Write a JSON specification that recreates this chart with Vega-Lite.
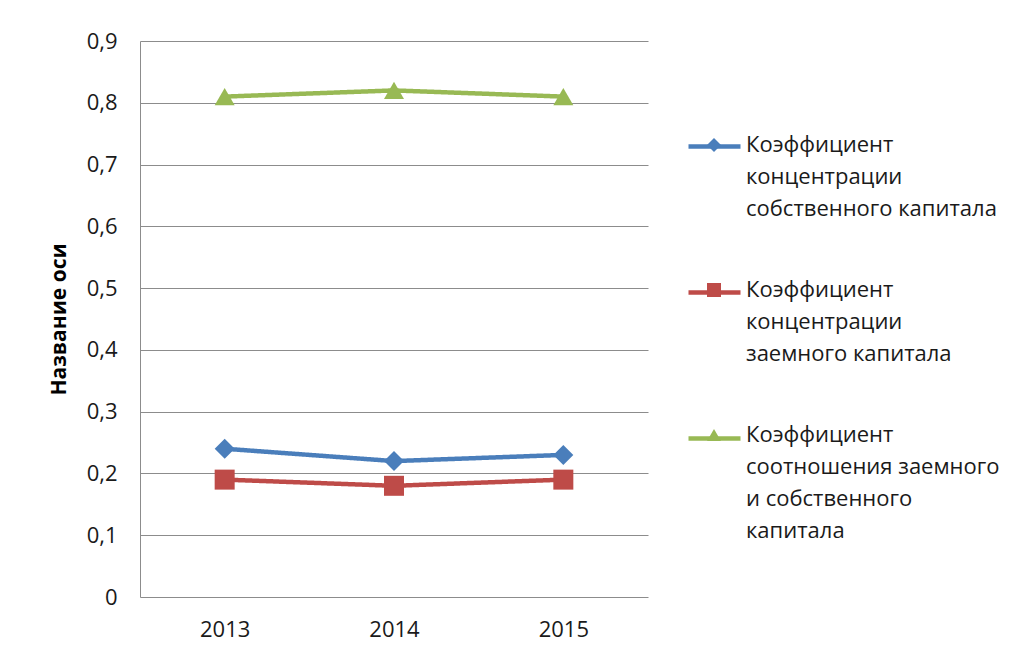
{
  "$schema": "https://vega.github.io/schema/vega-lite/v6.json",
  "width": 508,
  "height": 556,
  "autosize": {"type": "none"},
  "padding": {"left": 140, "top": 41, "right": 378, "bottom": 60},
  "background": "white",
  "config": {
    "font": "Open Sans",
    "view": {"stroke": null},
    "style": {"guide-label": {"lineHeight": 32}},
    "legend": {
      "title": null,
      "orient": "none",
      "padding": 0,
      "labelFontSize": 22,
      "labelLimit": 400,
      "labelOffset": 6,
      "labelBaseline": "top"
    }
  },
  "data": {
    "values": [
      {"year": "2013", "series": "Коэффициент концентрации собственного капитала", "value": 0.24},
      {"year": "2014", "series": "Коэффициент концентрации собственного капитала", "value": 0.22},
      {"year": "2015", "series": "Коэффициент концентрации собственного капитала", "value": 0.23},
      {"year": "2013", "series": "Коэффициент концентрации заемного капитала", "value": 0.19},
      {"year": "2014", "series": "Коэффициент концентрации заемного капитала", "value": 0.18},
      {"year": "2015", "series": "Коэффициент концентрации заемного капитала", "value": 0.19},
      {"year": "2013", "series": "Коэффициент соотношения заемного и собственного капитала", "value": 0.81},
      {"year": "2014", "series": "Коэффициент соотношения заемного и собственного капитала", "value": 0.82},
      {"year": "2015", "series": "Коэффициент соотношения заемного и собственного капитала", "value": 0.81}
    ]
  },
  "encoding": {
    "x": {
      "field": "year",
      "type": "ordinal",
      "scale": {"type": "point", "padding": 0.5},
      "axis": {
        "title": null,
        "domain": false,
        "ticks": false,
        "grid": false,
        "labelAngle": 0,
        "labelFontSize": 22,
        "labelColor": "#1a1a1a",
        "labelPadding": 22
      }
    },
    "y": {
      "field": "value",
      "type": "quantitative",
      "scale": {"domain": [0, 0.9], "nice": false},
      "axis": {
        "title": "Название оси",
        "titleFontSize": 21,
        "titleFontWeight": "bold",
        "titleColor": "#000000",
        "titlePadding": 17,
        "values": [0, 0.1, 0.2, 0.3, 0.4, 0.5, 0.6, 0.7, 0.8, 0.9],
        "labelExpr": "datum.value == 0 ? '0' : replace(format(datum.value, '.1f'), '.', ',')",
        "labelFontSize": 22,
        "labelColor": "#1a1a1a",
        "labelPadding": 23,
        "ticks": false,
        "domain": true,
        "domainColor": "#8c8c8c",
        "grid": true,
        "gridColor": "#8c8c8c",
        "gridWidth": 1
      }
    }
  },
  "layer": [
    {
      "mark": {"type": "line", "strokeWidth": 4.5},
      "encoding": {
        "stroke": {
          "field": "series",
          "type": "nominal",
          "scale": {
            "domain": [
              "Коэффициент концентрации собственного капитала",
              "Коэффициент концентрации заемного капитала",
              "Коэффициент соотношения заемного и собственного капитала"
            ],
            "range": ["#4A7EBB", "#BE4B48", "#98B954"]
          },
          "legend": {
            "legendX": 546,
            "legendY": 77,
            "symbolType": "stroke",
            "symbolSize": 2704,
            "symbolStrokeWidth": 4.5,
            "labelColor": "transparent",
            "rowPadding": 32,
            "labelExpr": "indexof(datum.label, 'соотношения') >= 0 ? [' ', ' ', ' ', ' '] : [' ', ' ', ' ']"
          }
        },
        "strokeDash": {
          "field": "series",
          "type": "nominal",
          "sort": "descending",
          "scale": {"range": [[1, 0], [1, 0], [1, 0]]},
          "legend": {
            "legendX": 578,
            "legendY": 83,
            "values": [
              "Коэффициент концентрации собственного капитала",
              "Коэффициент концентрации заемного капитала",
              "Коэффициент соотношения заемного и собственного капитала"
            ],
            "symbolSize": 196,
            "symbolOpacity": 0,
            "symbolStrokeWidth": 0,
            "labelColor": "#1a1a1a",
            "rowPadding": 49,
            "labelExpr": "datum.label == 'Коэффициент концентрации собственного капитала' ? ['Коэффициент', 'концентрации', 'собственного капитала'] : datum.label == 'Коэффициент концентрации заемного капитала' ? ['Коэффициент', 'концентрации', 'заемного капитала'] : ['Коэффициент', 'соотношения заемного', 'и собственного', 'капитала']"
          }
        }
      }
    },
    {
      "mark": {"type": "point", "filled": true, "opacity": 1, "size": 400},
      "encoding": {
        "fill": {
          "field": "series",
          "type": "nominal",
          "scale": {"range": ["#BE4B48", "#4A7EBB", "#98B954"]},
          "legend": {
            "legendX": 563,
            "legendY": 93,
            "values": [
              "Коэффициент концентрации собственного капитала",
              "Коэффициент концентрации заемного капитала",
              "Коэффициент соотношения заемного и собственного капитала"
            ],
            "symbolSize": 196,
            "symbolStrokeWidth": 0,
            "labelColor": "transparent",
            "rowPadding": 49,
            "labelExpr": "indexof(datum.label, 'соотношения') >= 0 ? [' ', ' ', ' ', ' '] : [' ', ' ', ' ']"
          }
        },
        "shape": {
          "field": "series",
          "type": "nominal",
          "scale": {"range": ["square", "diamond", "triangle-up"]},
          "legend": {
            "legendX": 563,
            "legendY": 93,
            "values": [
              "Коэффициент концентрации собственного капитала",
              "Коэффициент концентрации заемного капитала",
              "Коэффициент соотношения заемного и собственного капитала"
            ],
            "symbolSize": 196,
            "symbolStrokeWidth": 0,
            "labelColor": "transparent",
            "rowPadding": 49,
            "labelExpr": "indexof(datum.label, 'соотношения') >= 0 ? [' ', ' ', ' ', ' '] : [' ', ' ', ' ']"
          }
        }
      }
    }
  ]
}
